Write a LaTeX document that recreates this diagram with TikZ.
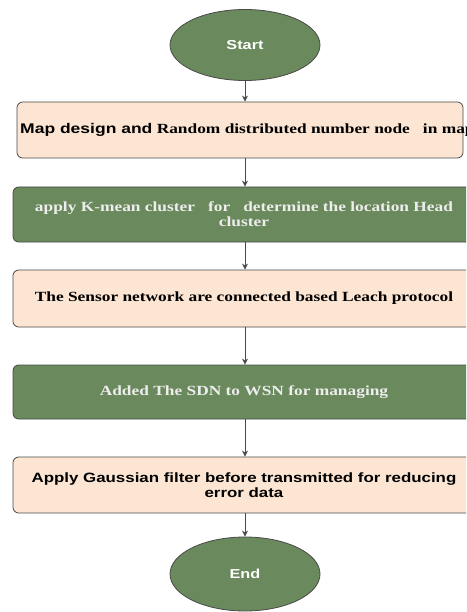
\documentclass[tikz,border=0pt]{standalone}
\usepackage{fontspec}
\setmainfont{Liberation Serif}[FakeStretch=1.24]
\newfontfamily\arialfont{Liberation Sans}[FakeStretch=1.25]
\usetikzlibrary{shapes.geometric,arrows.meta}
\definecolor{stepgreen}{HTML}{6A895C}
\definecolor{steppeach}{HTML}{FCE5D2}
\definecolor{edgegray}{HTML}{4A4A4A}
\tikzstyle{terminal} = [draw=edgegray,thick,ellipse,fill=stepgreen,minimum width=150,minimum height=71,inner sep=0,text=white,font=\arialfont\bfseries\fontsize{13}{15}\selectfont]
\tikzstyle{greenbox} = [draw=edgegray,thick,rectangle,rounded corners=.2cm,fill=stepgreen,minimum width=462,align=center,text=white!93!black,font=\bfseries\fontsize{14}{15}\selectfont]
\tikzstyle{peachbox} = [draw=edgegray,thick,rectangle,rounded corners=.2cm,fill=steppeach,minimum width=462,align=center,font=\bfseries\fontsize{14}{15}\selectfont]
\tikzstyle{flow} = [-{Stealth[length=6pt,width=6pt]},thick,color=edgegray]
\def \gap {\ \ \ }

\begin{document}
\begin{tikzpicture}[x=1pt,y=-1pt]
      \useasboundingbox (0,0) rectangle (466,612);
      \fill[white] (0,0) rectangle (466,612);
      \clip (0,0) rectangle (466,612);
      \node[terminal] (start) at (245,45) {Start};
      \node[peachbox,minimum width=446,minimum height=56] (map) at (240,130) {};
      \node[anchor=west,inner sep=0,font=\bfseries\fontsize{14}{15}\selectfont] (maptext) at (20,130) {{\arialfont Map design and} Random distributed number node\gap in map};
      \node[greenbox,minimum height=55] (kmean) at (244,214.5) {apply K-mean cluster\gap for\gap determine the location Head\\cluster};
      \node[peachbox,minimum height=57] (leach) at (244,298.5) {The Sensor network are connected based Leach protocol};
      \node[greenbox,minimum height=54] (sdn) at (244,392) {Added The SDN to WSN for managing};
      \node[peachbox,minimum height=56,font=\arialfont\bfseries\fontsize{13.5}{15}\selectfont] (gauss) at (244,485) {Apply Gaussian filter before transmitted for reducing\\error data};
      \node[terminal,minimum height=74] (end) at (245,574) {End};
      \draw[flow] (start.south) -- (start.south |- map.north);
      \draw[flow] (start.south |- map.south) -- (start.south |- kmean.north);
      \draw[flow] (start.south |- kmean.south) -- (start.south |- leach.north);
      \draw[flow] (start.south |- leach.south) -- (start.south |- sdn.north);
      \draw[flow] (start.south |- sdn.south) -- (start.south |- gauss.north);
      \draw[flow] (start.south |- gauss.south) -- (end.north);
    \end{tikzpicture}
\end{document}
